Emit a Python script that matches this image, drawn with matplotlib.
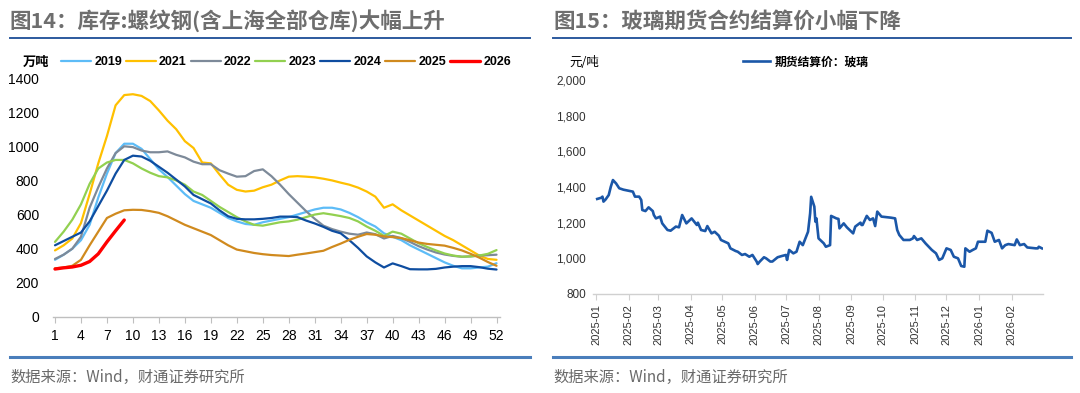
import matplotlib
matplotlib.use("Agg")
import matplotlib.pyplot as plt
import matplotlib.dates as mdates
from matplotlib.lines import Line2D
import numpy as np
import pandas as pd

plt.rcParams['font.family'] = ['Liberation Sans', 'Noto Sans CJK SC', 'DejaVu Sans']
CJK = ['Noto Sans CJK SC', 'DejaVu Sans']

# ---------------- data: rebar inventory (万吨), by week ----------------
weeks = list(range(1, 53))
inv_2019 = [335, 365, 400, 450, 540, 700, 840, 960, 1015, 1015, 985, 925, 865, 820, 770, 720,
            680, 660, 640, 610, 580, 560, 545, 540, 555, 565, 575, 585, 600, 615, 630, 640,
            640, 630, 610, 585, 555, 530, 490, 470, 450, 420, 395, 370, 345, 320, 300, 285,
            285, 290, 295, 315]
inv_2021 = [390, 420, 460, 550, 720, 900, 1060, 1240, 1300, 1305, 1295, 1265, 1210, 1150, 1100, 1030,
            990, 905, 900, 835, 775, 745, 735, 740, 760, 775, 800, 822, 825, 822, 818, 810,
            800, 787, 775, 758, 735, 705, 640, 660, 625, 595, 565, 535, 505, 475, 450, 420,
            390, 360, 340, 335]
inv_2022 = [340, 365, 400, 470, 640, 760, 870, 960, 1000, 995, 975, 965, 965, 970, 950, 935,
            910, 895, 895, 860, 840, 822, 825, 855, 865, 825, 775, 720, 670, 620, 575, 535,
            515, 500, 488, 482, 495, 485, 460, 475, 462, 440, 415, 395, 378, 366, 358, 353,
            355, 360, 362, 365]
inv_2023 = [440, 500, 570, 660, 780, 870, 905, 920, 920, 900, 870, 845, 825, 818, 800, 775,
            735, 715, 680, 645, 615, 585, 560, 540, 535, 545, 555, 560, 570, 585, 600, 608,
            600, 591, 580, 560, 530, 505, 475, 500, 488, 460, 432, 410, 390, 372, 360, 353,
            355, 360, 370, 392]
inv_2024 = [420, 445, 470, 495, 560, 650, 740, 840, 920, 945, 940, 915, 880, 845, 805, 765,
            715, 690, 665, 625, 590, 575, 572, 572, 575, 580, 588, 588, 585, 565, 548, 528,
            505, 490, 450, 405, 355, 320, 290, 314, 298, 280, 279, 279, 282, 290, 295, 298,
            298, 292, 283, 278]
inv_2025 = [285, 290, 300, 335, 420, 500, 580, 605, 625, 628, 627, 620, 610, 590, 565, 540,
            520, 500, 480, 450, 420, 395, 385, 375, 368, 363, 360, 357, 365, 372, 380, 388,
            410, 430, 452, 470, 486, 482, 472, 468, 462, 450, 436, 428, 423, 418, 405, 390,
            370, 348, 322, 300]
inv_2026 = [281, 288, 293, 303, 325, 370, 440, 505, 568]

years = ['2019', '2021', '2022', '2023', '2024', '2025', '2026']
year_series = [inv_2019, inv_2021, inv_2022, inv_2023, inv_2024, inv_2025, inv_2026]
year_colors = ['#5DBCF7', '#FFC000', '#7D8A99', '#92D050', '#0E4DA0', '#D08A1E', '#FF0000']
year_widths = [1.6, 1.6, 1.6, 1.6, 1.6, 1.6, 2.4]
week_ticks = list(range(1, 53, 3))

# ---------------- data: glass futures settlement price (元/吨) ----------------
glass_dates = [
    '2025-01-02', '2025-01-06', '2025-01-07', '2025-01-08', '2025-01-10', '2025-01-13', '2025-01-15',
    '2025-01-17', '2025-01-20', '2025-01-23', '2025-01-27', '2025-02-05', '2025-02-07', '2025-02-11',
    '2025-02-13', '2025-02-14', '2025-02-17', '2025-02-20', '2025-02-24', '2025-02-25', '2025-02-27',
    '2025-03-03', '2025-03-05', '2025-03-10', '2025-03-13', '2025-03-18', '2025-03-21', '2025-03-24',
    '2025-03-28', '2025-04-02', '2025-04-07', '2025-04-08', '2025-04-11', '2025-04-15', '2025-04-17',
    '2025-04-21', '2025-04-24', '2025-04-28', '2025-04-30', '2025-05-07', '2025-05-09', '2025-05-14',
    '2025-05-16', '2025-05-20', '2025-05-23', '2025-05-27', '2025-05-30', '2025-06-03', '2025-06-04',
    '2025-06-06', '2025-06-10', '2025-06-12', '2025-06-16', '2025-06-18', '2025-06-23', '2025-06-27',
    '2025-07-01', '2025-07-02', '2025-07-04', '2025-07-08', '2025-07-11', '2025-07-14', '2025-07-17',
    '2025-07-22', '2025-07-24', '2025-07-25', '2025-07-28', '2025-07-29', '2025-07-30', '2025-08-01',
    '2025-08-06', '2025-08-08', '2025-08-12', '2025-08-13', '2025-08-18', '2025-08-20', '2025-08-21',
    '2025-08-25', '2025-08-28', '2025-09-03', '2025-09-05', '2025-09-10', '2025-09-11', '2025-09-12',
    '2025-09-16', '2025-09-19', '2025-09-22', '2025-09-24', '2025-09-26', '2025-09-30', '2025-10-09',
    '2025-10-13', '2025-10-15', '2025-10-17', '2025-10-21', '2025-10-27', '2025-10-30', '2025-10-31',
    '2025-11-03', '2025-11-07', '2025-11-11', '2025-11-17', '2025-11-21', '2025-11-24', '2025-11-27',
    '2025-12-01', '2025-12-05', '2025-12-08', '2025-12-12', '2025-12-15', '2025-12-18', '2025-12-19',
    '2025-12-23', '2025-12-26', '2025-12-29', '2025-12-31', '2026-01-07', '2026-01-09', '2026-01-13',
    '2026-01-16', '2026-01-20', '2026-01-23', '2026-01-26', '2026-01-29', '2026-02-04', '2026-02-06',
    '2026-02-09', '2026-02-13', '2026-02-16', '2026-02-24', '2026-02-26', '2026-02-27', '2026-03-02']
glass_vals = [
    1333, 1340, 1346, 1318, 1330, 1355, 1402,
    1439, 1420, 1393, 1385, 1374, 1346, 1346,
    1327, 1271, 1265, 1286, 1265, 1243, 1224,
    1234, 1196, 1159, 1155, 1178, 1174, 1243,
    1196, 1224, 1187, 1200, 1159, 1153, 1181,
    1140, 1149, 1127, 1103, 1084, 1056, 1041,
    1037, 1019, 1024, 1009, 1019, 982, 968,
    982, 1006, 1000, 982, 982, 1006, 1013,
    1019, 991, 1047, 1028, 1037, 1093, 1074,
    1149, 1252, 1345, 1290, 1206, 1224, 1112,
    1084, 1065, 1074, 1238, 1224, 1221, 1168,
    1196, 1174, 1140, 1178, 1200, 1187, 1187,
    1238, 1215, 1224, 1181, 1262, 1234, 1228,
    1224, 1159, 1131, 1103, 1103, 1112, 1125,
    1103, 1112, 1084, 1047, 1028, 991, 1000,
    1056, 1047, 1009, 1000, 957, 953, 1056,
    1037, 1047, 1056, 1093, 1093, 1155, 1143,
    1093, 1103, 1056, 1074, 1080, 1074, 1106,
    1074, 1080, 1061, 1056, 1056, 1065, 1056]
glass_label = '期货结算价：玻璃'
glass_month_ticks = pd.date_range('2025-01-01', '2026-02-01', freq='MS')

W, H = 1080, 393
fig = plt.figure(figsize=(W / 100, H / 100), dpi=100)
fig.patch.set_facecolor('white')


def fx(px):
    return px / W


def fy(py):
    return 1 - py / H


# ---------------- titles and rules ----------------
fig.text(fx(9), fy(21), '图14：库存:螺纹钢(含上海全部仓库)大幅上升', family=CJK, fontsize=15.5,
         fontweight='bold', color='#6E6E6E', va='center', ha='left')
fig.text(fx(553), fy(21), '图15：玻璃期货合约结算价小幅下降', family=CJK, fontsize=15.5,
         fontweight='bold', color='#6E6E6E', va='center', ha='left')
for x0, x1 in [(10, 530), (553, 1071)]:
    fig.add_artist(Line2D([fx(x0), fx(x1)], [fy(37.5), fy(37.5)], color='#2C5A9E', lw=1.4))
    fig.add_artist(Line2D([fx(x0), fx(x1)], [fy(356.5), fy(356.5)], color='#4A7EBB', lw=2.2))
fig.text(fx(10), fy(377), '数据来源：Wind，财通证券研究所', family=CJK, fontsize=11,
         color='#6A6A6A', va='center', ha='left')
fig.text(fx(553), fy(377), '数据来源：Wind，财通证券研究所', family=CJK, fontsize=11,
         color='#6A6A6A', va='center', ha='left')

# ---------------- left chart ----------------
axL = fig.add_axes([fx(53), fy(317), fx(500) - fx(53), fy(78) - fy(317)])
handles = []
for yr, s, c, lw in zip(years, year_series, year_colors, year_widths):
    ln, = axL.plot(weeks[:len(s)], s, color=c, lw=lw, label=yr, solid_capstyle='round',
                   zorder=3 if yr == '2026' else 2)
    handles.append(ln)
axL.set_xlim(0.77, 52.4)
axL.set_ylim(0, 1400)
axL.set_yticks(range(0, 1401, 200))
axL.set_xticks(week_ticks)
for sp in ['left', 'right', 'top']:
    axL.spines[sp].set_visible(False)
axL.spines['bottom'].set_color('#BFBFBF')
axL.spines['bottom'].set_linewidth(1.0)
axL.tick_params(axis='x', direction='out', length=4, color='#BFBFBF', labelsize=10, pad=5, labelcolor='#000000')
axL.tick_params(axis='y', length=0, labelsize=10, pad=10, labelcolor='#000000')
fig.text(fx(23), fy(62), '万吨', family=CJK, fontsize=9.5, fontweight='bold', va='center', ha='left')
fig.legend(handles=handles, loc='center', bbox_to_anchor=(fx(286), fy(62)), ncol=7, frameon=False,
           handlelength=2.4, handletextpad=0.27, columnspacing=0.3,
           prop={'family': 'Liberation Sans', 'weight': 'bold', 'size': 9})

# ---------------- right chart ----------------
gd = pd.to_datetime(glass_dates)
axR = fig.add_axes([fx(593), fy(294), fx(1043) - fx(593), fy(80) - fy(294)])
lnR, = axR.plot(gd, glass_vals, color='#1B57A8', lw=1.9, label=glass_label)
axR.set_ylim(800, 2000)
axR.set_yticks(range(800, 2001, 200))
axR.set_yticklabels([f'{v:,}' for v in range(800, 2001, 200)])
axR.set_xlim(pd.Timestamp('2024-12-29'), pd.Timestamp('2026-03-03'))
axR.set_xticks(glass_month_ticks)
axR.xaxis.set_major_formatter(mdates.DateFormatter('%Y-%m'))
for sp in ['left', 'right', 'top']:
    axR.spines[sp].set_visible(False)
axR.spines['bottom'].set_color('#D0D0D0')
axR.spines['bottom'].set_linewidth(1.0)
axR.tick_params(axis='x', direction='out', length=4, color='#D0D0D0', labelsize=8, pad=3,
                labelrotation=90, labelcolor='#333333')
axR.tick_params(axis='y', length=0, labelsize=8.5, pad=5, labelcolor='#333333')
fig.text(fx(569), fy(62), '元/吨', family=CJK, fontsize=9, va='center', ha='left')
fig.legend(handles=[lnR], loc='center', bbox_to_anchor=(fx(806), fy(62)), frameon=False,
           handlelength=2.3, handletextpad=0.4,
           prop={'family': CJK, 'weight': 'bold', 'size': 8.5})

fig.savefig('out.png', dpi=100, facecolor='white')
